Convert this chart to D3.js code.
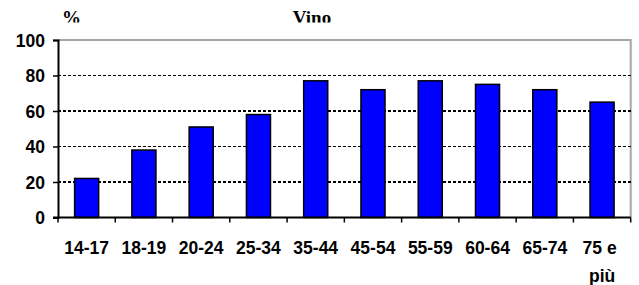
<!DOCTYPE html>
<html>
<head>
<meta charset="utf-8">
<title>Vino</title>
<script src="https://cdnjs.cloudflare.com/ajax/libs/d3/7.8.5/d3.min.js"></script>
<style>
body { margin: 0; background: #fff; }
svg { display: block; }
.label { font-family: "Liberation Sans", Arial, sans-serif; font-weight: bold; font-size: 17.5px; fill: #000; }
.title { font-family: "Liberation Serif", "Times New Roman", serif; font-weight: bold; font-size: 19px; fill: #000; }
line.grid { stroke: #000; stroke-width: 1.5px; stroke-dasharray: 3,2; shape-rendering: crispEdges; }
</style>
</head>
<body>
<div id="chart"></div>
<script>
var categories = ["14-17", "18-19", "20-24", "25-34", "35-44", "45-54", "55-59", "60-64", "65-74", "75 e più"];
var values = [22, 38, 51, 58, 77, 72, 77, 75, 72, 65];
var yTicks = [0, 20, 40, 60, 80, 100];

var width = 639, height = 285;
var margin = {top: 40, left: 58, right: 8.3, bottom: 67.5};

var svg = d3.select("#chart").append("svg")
  .attr("width", width).attr("height", height);

var x = d3.scaleBand()
  .domain(categories)
  .range([margin.left, width - margin.right])
  .paddingInner(0.58).paddingOuter(0.29);

var xb = d3.scaleBand()
  .domain(categories)
  .range([margin.left, width - margin.right]);

var y = d3.scaleLinear()
  .domain([0, 100])
  .range([height - margin.bottom, margin.top]);

// title clipped at the top like the original
svg.append("clipPath").attr("id", "clipTop")
  .append("rect").attr("x", 0).attr("y", 0).attr("width", width).attr("height", 22.5);

var head = svg.append("g").attr("clip-path", "url(#clipTop)");
head.append("text").attr("class", "title")
  .attr("x", 62).attr("y", 23.5).text("%");
head.append("text").attr("class", "title")
  .attr("x", 312).attr("y", 23.5).attr("text-anchor", "middle").text("Vino");

// plot border (gray) top and right
svg.append("path")
  .attr("d", "M" + margin.left + "," + y(100) + "H" + (width - margin.right) + "V" + y(0))
  .attr("fill", "none").attr("stroke", "#a6a6a6").attr("stroke-width", 2);

// gridlines
svg.selectAll("line.grid")
  .data(yTicks.filter(function(d) { return d > 0 && d < 100; }))
  .enter().append("line")
  .attr("class", "grid")
  .attr("x1", margin.left).attr("x2", width - margin.right)
  .attr("y1", function(d) { return y(d); })
  .attr("y2", function(d) { return y(d); });

// bars
svg.selectAll("rect.bar")
  .data(values)
  .enter().append("rect")
  .attr("class", "bar")
  .attr("x", function(d, i) { return x(categories[i]); })
  .attr("width", x.bandwidth())
  .attr("y", function(d) { return y(d); })
  .attr("height", function(d) { return y(0) - y(d); })
  .attr("fill", "#0000ff")
  .attr("stroke", "#000")
  .attr("stroke-width", 1.5);

// y axis
var yAxis = svg.append("g")
  .attr("transform", "translate(" + margin.left + ",0)")
  .call(d3.axisLeft(y).tickValues(yTicks).tickSize(5).tickPadding(8));
yAxis.select(".domain").attr("stroke", "#000").attr("stroke-width", 2);
yAxis.selectAll(".tick line").attr("stroke", "#000").attr("stroke-width", 1.5);
yAxis.selectAll(".tick text").attr("class", "label").attr("dy", "0.36em");

// x axis: ticks at category boundaries
var xAxisG = svg.append("g");
xAxisG.append("line")
  .attr("x1", margin.left - 5).attr("x2", width - margin.right)
  .attr("y1", y(0)).attr("y2", y(0))
  .attr("stroke", "#000").attr("stroke-width", 2);
var bounds = categories.map(function(c) { return xb(c); }).concat([width - margin.right]);
xAxisG.selectAll("line.xt")
  .data(bounds)
  .enter().append("line")
  .attr("class", "xt")
  .attr("x1", function(d) { return d; }).attr("x2", function(d) { return d; })
  .attr("y1", y(0)).attr("y2", y(0) + 5)
  .attr("stroke", "#000").attr("stroke-width", 1.5);

var xl = xAxisG.selectAll("text.xl")
  .data(categories)
  .enter().append("text")
  .attr("class", "label xl")
  .attr("text-anchor", "middle")
  .attr("transform", function(d) { return "translate(" + (xb(d) + xb.bandwidth() / 2) + "," + 253.5 + ")"; });

xl.each(function(d) {
  var lines = d === "75 e più" ? ["75 e\u00a0", "più"] : [d];
  var t = d3.select(this);
  lines.forEach(function(s, i) {
    t.append("tspan").attr("x", 0).attr("y", i * 28).text(s);
  });
});
</script>
</body>
</html>
